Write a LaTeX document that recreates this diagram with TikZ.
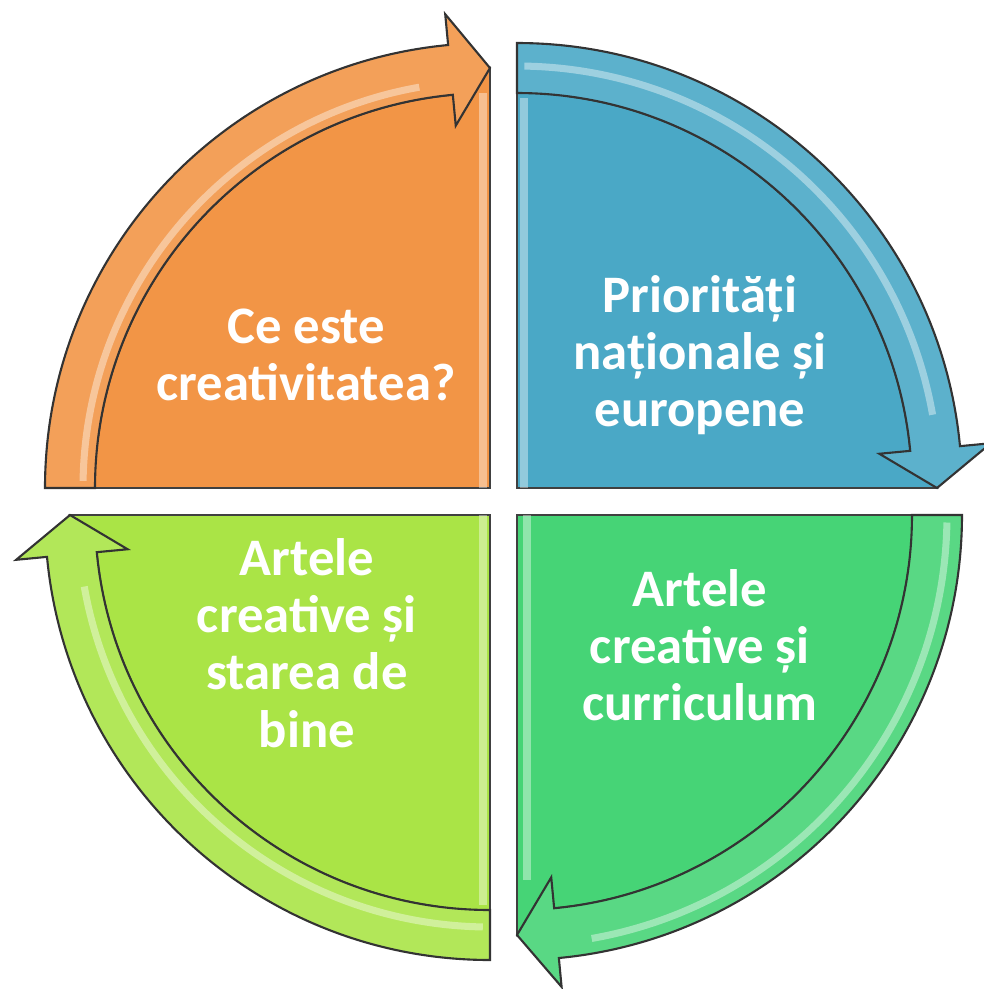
\documentclass[tikz,border=0pt]{standalone}
\usepackage{fontspec}
\setmainfont{Carlito}
\usetikzlibrary{positioning}
\definecolor{orangeq}{RGB}{242,149,70}
\definecolor{blueq}{RGB}{74,168,198}
\definecolor{greenq}{RGB}{70,212,118}
\definecolor{limeq}{RGB}{170,228,70}
\tikzset{
	%Define style for the quarter discs
	quarter/.style={
		fill=#1,
		draw=black!75, line width=0.5pt},
	%Define style for the curved arrows
	band/.style={
		fill=#1!90!white,
		draw=black!80, line width=0.6pt,
		line join=miter},
	% Define highlight style
	shine/.style={
		draw=white, opacity=0.4, line width=2pt},
	% Define label style
	lbl/.style={
		text=white,
		font=\fontsize{15}{16.3}\selectfont\bfseries,
		align=center}
}
\begin{document}
\begin{tikzpicture}
	\useasboundingbox (0,0) rectangle (9.84,-9.89);
	
	\coordinate (cTL) at (4.90,-4.88);
	\coordinate (cTR) at (5.17,-4.88);
	\coordinate (cBR) at (5.17,-5.15);
	\coordinate (cBL) at (4.90,-5.15);
	
	% top left
	\fill[quarter=orangeq] (cTL) -- ([shift={(180:3.95)}]cTL) arc[start angle=180,end angle=95.4,radius=3.95] -- ([shift={(90:4.20)}]cTL) -- cycle;
	\draw[quarter=orangeq] ([shift={(180:4.45)}]cTL) -- (cTL) -- ([shift={(90:4.20)}]cTL);
	\draw[shine] ([shift={(-0.07,0)}]cTL) -- ([shift={(-0.07,3.95)}]cTL);
	\draw[band=orangeq] ([shift={(180:4.45)}]cTL) arc[start angle=180,end angle=95.4,radius=4.45]
		-- ([shift={(95.4:4.76)}]cTL) -- ([shift={(90:4.20)}]cTL) -- ([shift={(95.4:3.64)}]cTL)
		-- ([shift={(95.4:3.95)}]cTL) arc[start angle=95.4,end angle=180,radius=3.95] -- cycle;
	\draw[shine] ([shift={(179:4.07)}]cTL) arc[start angle=179,end angle=100,radius=4.07];
	
	% top right
	\fill[quarter=blueq] (cTR) -- ([shift={(90:3.95)}]cTR) arc[start angle=90,end angle=5.4,radius=3.95] -- ([shift={(0:4.20)}]cTR) -- cycle;
	\draw[quarter=blueq] ([shift={(90:4.45)}]cTR) -- (cTR) -- ([shift={(0:4.20)}]cTR);
	\draw[shine] ([shift={(0.07,0)}]cTR) -- ([shift={(0.07,3.9)}]cTR);
	\draw[band=blueq] ([shift={(90:4.45)}]cTR) arc[start angle=90,end angle=5.4,radius=4.45]
		-- ([shift={(5.4:4.76)}]cTR) -- ([shift={(0:4.20)}]cTR) -- ([shift={(5.4:3.64)}]cTR)
		-- ([shift={(5.4:3.95)}]cTR) arc[start angle=5.4,end angle=90,radius=3.95] -- cycle;
	\draw[shine] ([shift={(89:4.22)}]cTR) arc[start angle=89,end angle=10,radius=4.22];
	
	% bottom right
	\fill[quarter=greenq] (cBR) -- ([shift={(0:3.95)}]cBR) arc[start angle=0,end angle=-84.6,radius=3.95] -- ([shift={(-90:4.20)}]cBR) -- cycle;
	\draw[quarter=greenq] ([shift={(0:4.45)}]cBR) -- (cBR) -- ([shift={(-90:4.20)}]cBR);
	\draw[shine] ([shift={(0.10,0)}]cBR) -- ([shift={(0.10,-3.65)}]cBR);
	\draw[band=greenq] ([shift={(0:4.45)}]cBR) arc[start angle=0,end angle=-84.6,radius=4.45]
		-- ([shift={(-84.6:4.74)}]cBR) -- ([shift={(-90:4.20)}]cBR) -- ([shift={(-84.6:3.64)}]cBR)
		-- ([shift={(-84.6:3.95)}]cBR) arc[start angle=-84.6,end angle=0,radius=3.95] -- cycle;
	\draw[shine] ([shift={(-1:4.30)}]cBR) arc[start angle=-1,end angle=-80,radius=4.30];
	
	% bottom left
	\fill[quarter=limeq] (cBL) -- ([shift={(-90:3.95)}]cBL) arc[start angle=-90,end angle=-174.6,radius=3.95] -- ([shift={(180:4.20)}]cBL) -- cycle;
	\draw[quarter=limeq] ([shift={(-90:4.45)}]cBL) -- (cBL) -- ([shift={(180:4.20)}]cBL);
	\draw[shine] ([shift={(-0.07,0)}]cBL) -- ([shift={(-0.07,-3.9)}]cBL);
	\draw[band=limeq] ([shift={(-90:4.45)}]cBL) arc[start angle=-90,end angle=-174.6,radius=4.45]
		-- ([shift={(-174.6:4.76)}]cBL) -- ([shift={(-180:4.20)}]cBL) -- ([shift={(-174.6:3.64)}]cBL)
		-- ([shift={(-174.6:3.95)}]cBL) arc[start angle=-174.6,end angle=-90,radius=3.95] -- cycle;
	\draw[shine] ([shift={(-91:4.12)}]cBL) arc[start angle=-91,end angle=-170,radius=4.12];
	
	% labels
	\node[lbl] (creativ) at (3.06,-3.55) {Ce este\\creativitatea?};
	\node[lbl] (prior) at (7.00,-3.55) {Priorități\\naționale și\\europene};
	\node[lbl] (curric) at (7.00,-6.45) {Artele\\creative și\\curriculum};
	\node[lbl] (bine) at (3.07,-6.43) {Artele\\creative și\\starea de\\bine};
	
\end{tikzpicture}
\end{document}
